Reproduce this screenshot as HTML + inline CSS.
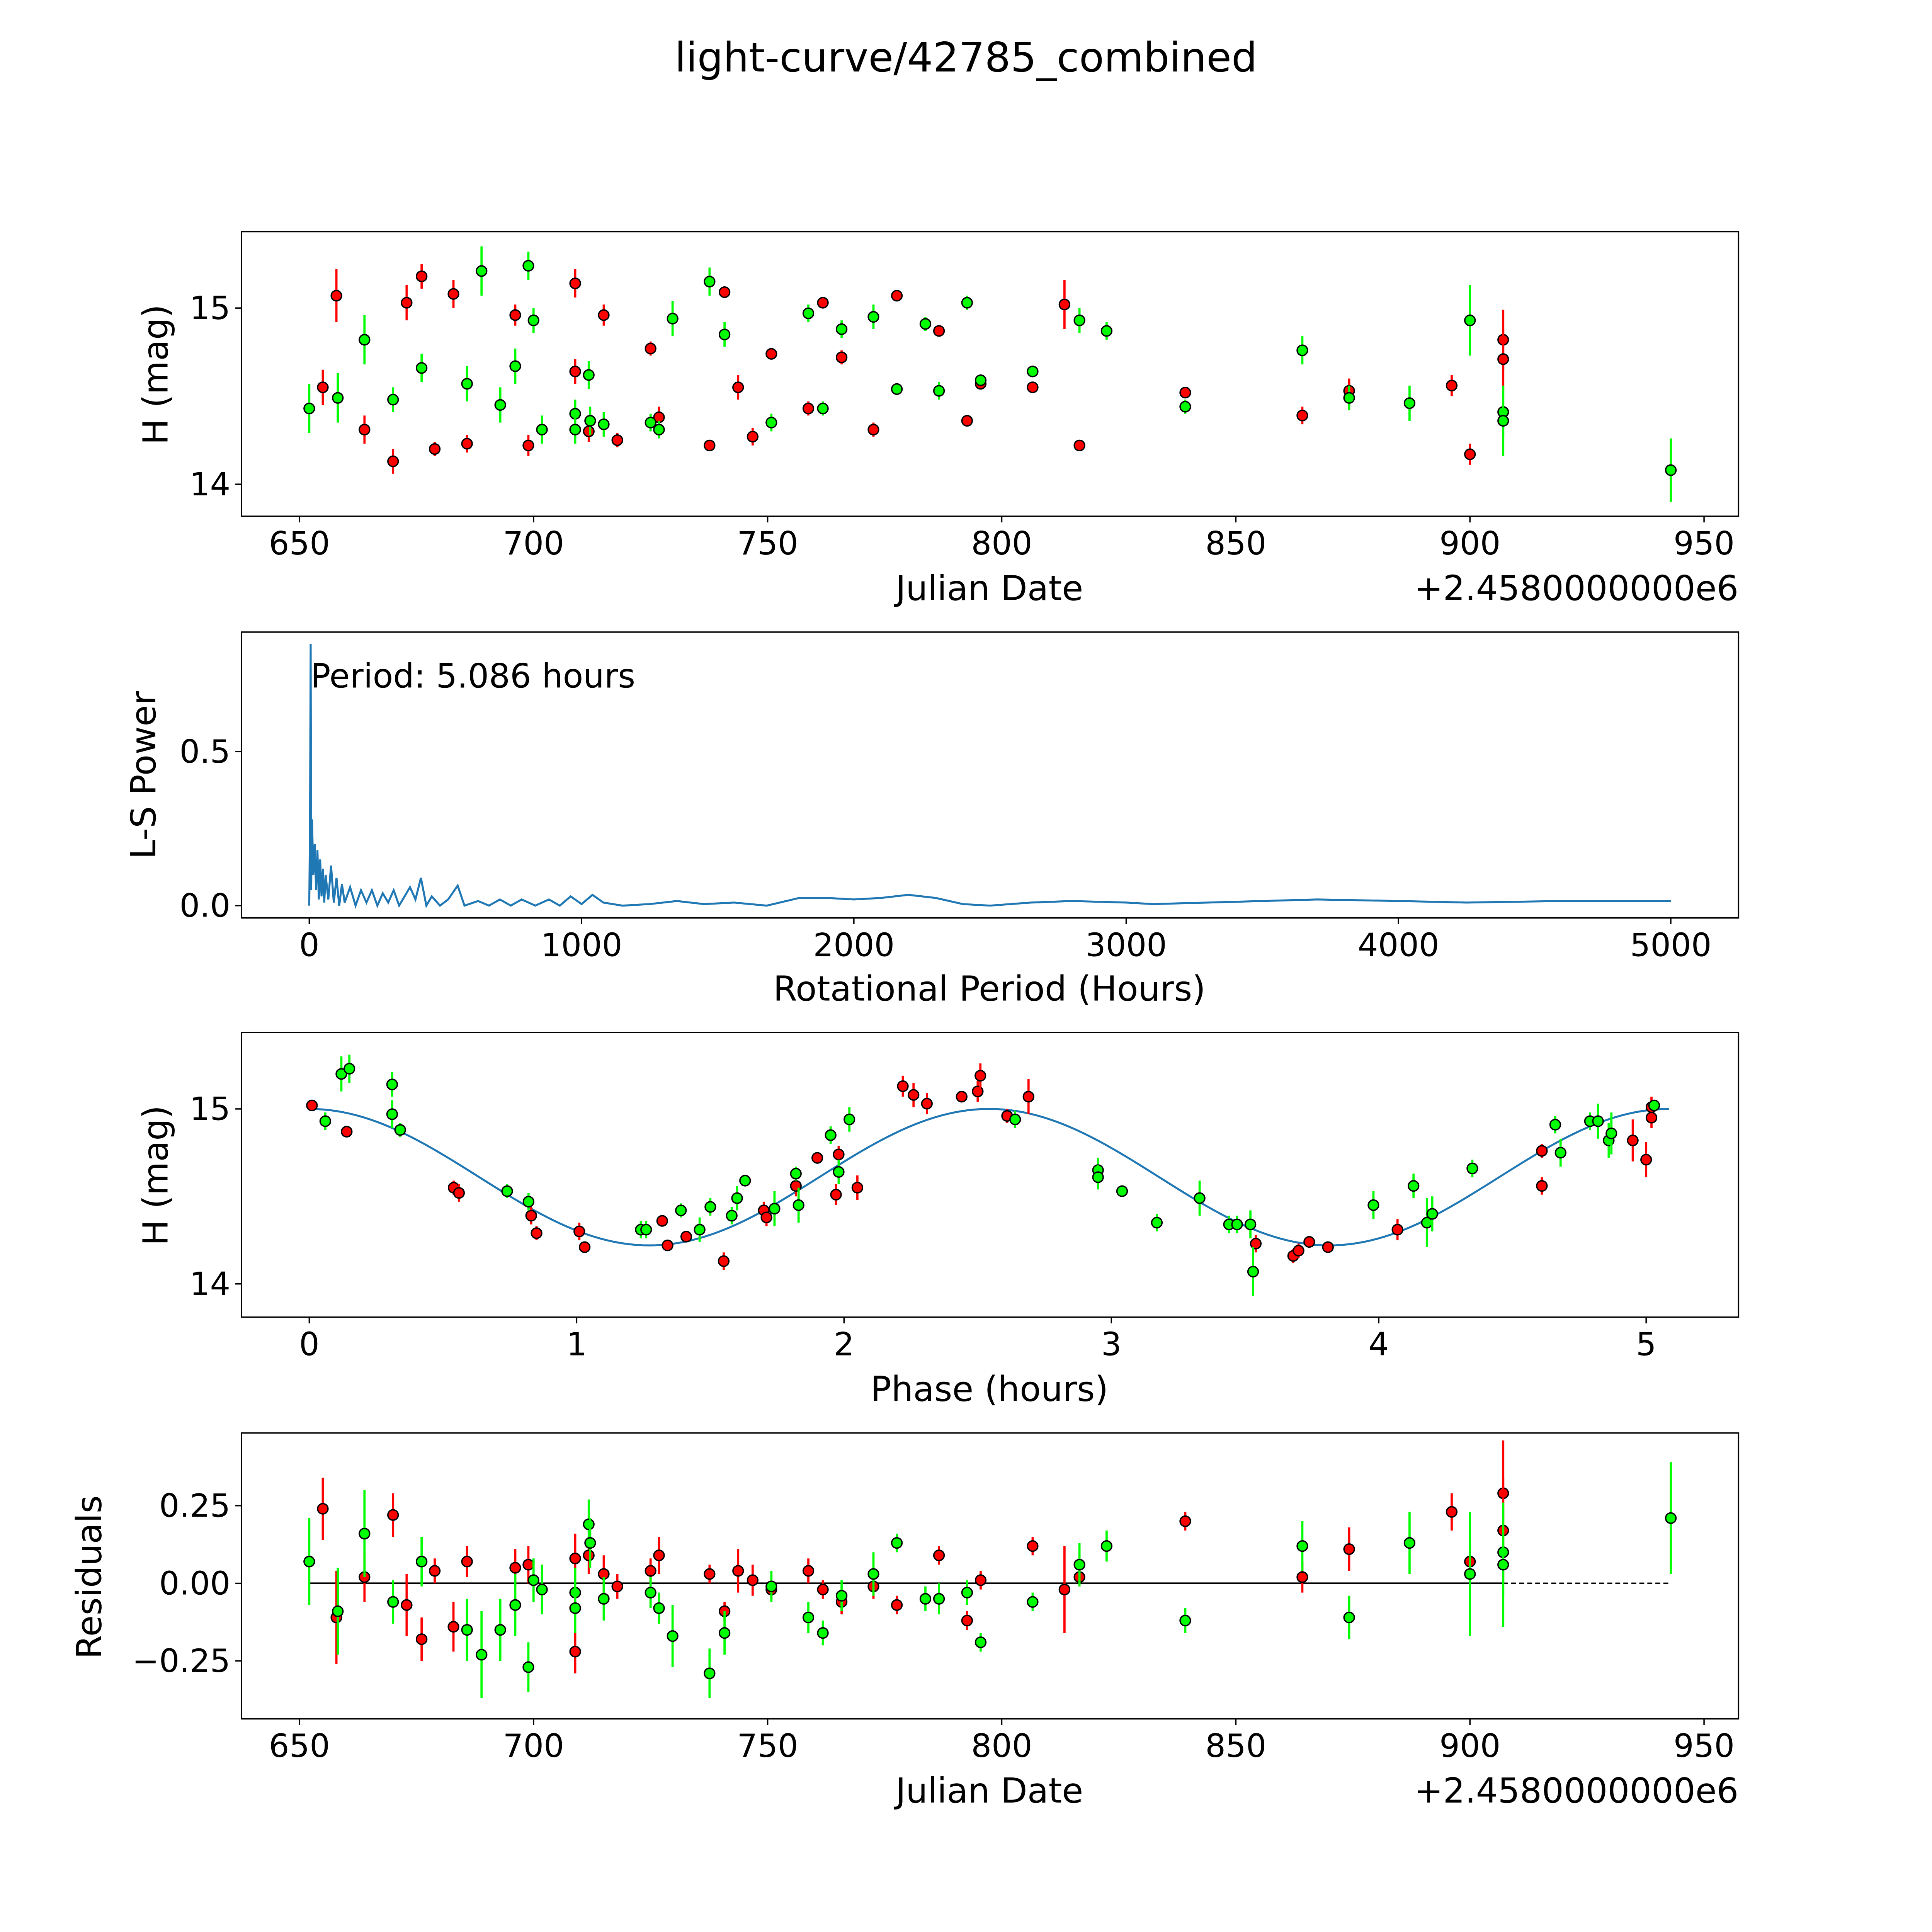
<!DOCTYPE html>
<html><head><meta charset="utf-8"><style>
html,body{margin:0;padding:0;background:#fff;width:100%;height:100%;overflow:hidden}
svg{display:block;width:100vw;height:100vh}
text{font-family:"DejaVu Sans","Liberation Sans",sans-serif;fill:#000}
</style></head><body>
<svg id="fig" xmlns="http://www.w3.org/2000/svg" viewBox="0 0 1568 1568" preserveAspectRatio="none">
<rect width="1568" height="1568" fill="#fff"/>
<text x="784" y="58" font-size="33" text-anchor="middle">light-curve/42785_combined</text>
</svg>
<script>
// ---- Light curve data (Julian date - 2458000, H mag, error) ----
const redJD=[655.0,657.9,663.9,670.0,672.9,676.1,678.9,682.9,685.8,696.1,698.9,708.9,708.9,711.8,715.0,717.9,725.0,726.8,737.6,740.8,743.7,746.8,750.8,758.7,761.8,765.8,772.6,777.6,786.6,792.6,795.5,806.6,813.4,816.6,839.2,864.2,874.2,896.1,900.0,907.1,907.1];
const redMag=[14.55,15.07,14.31,14.13,15.03,15.18,14.20,15.08,14.23,14.96,14.22,15.14,14.64,14.30,14.96,14.25,14.77,14.38,14.22,15.09,14.55,14.27,14.74,14.43,15.03,14.72,14.31,15.07,14.87,14.36,14.57,14.55,15.02,14.22,14.52,14.39,14.53,14.56,14.17,14.82,14.71];
const redErr=[0.10,0.15,0.08,0.07,0.10,0.07,0.04,0.08,0.05,0.06,0.06,0.08,0.07,0.06,0.06,0.04,0.04,0.06,0.03,0.03,0.07,0.05,0.03,0.04,0.03,0.04,0.04,0.03,0.03,0.03,0.03,0.03,0.14,0.03,0.03,0.05,0.07,0.06,0.06,0.17,0.17];
const redRes=[0.24,-0.11,0.02,0.22,-0.07,-0.18,0.04,-0.14,0.07,0.05,0.06,0.08,-0.22,0.09,0.03,-0.01,0.04,0.09,0.03,-0.09,0.04,0.01,-0.02,0.04,-0.02,-0.06,-0.01,-0.07,0.09,-0.12,0.01,0.12,-0.02,0.02,0.20,0.02,0.11,0.23,0.07,0.29,0.17];
const grnJD=[652.1,658.2,663.9,670.0,676.1,685.8,688.9,692.9,696.1,698.9,700.0,701.8,708.9,708.9,711.8,712.1,715.0,725.0,726.8,729.7,737.6,740.8,750.8,758.7,761.8,765.8,772.6,777.6,783.7,786.6,792.6,795.5,806.6,816.6,822.4,839.2,864.2,874.2,887.1,900.0,907.1,907.1,942.9];
const grnMag=[14.43,14.49,14.82,14.48,14.66,14.57,15.21,14.45,14.67,15.24,14.93,14.31,14.40,14.31,14.62,14.36,14.34,14.35,14.31,14.94,15.15,14.85,14.35,14.97,14.43,14.88,14.95,14.54,14.91,14.53,15.03,14.59,14.64,14.93,14.87,14.44,14.76,14.49,14.46,14.93,14.41,14.36,14.08];
const grnErr=[0.14,0.14,0.14,0.07,0.08,0.10,0.14,0.10,0.10,0.08,0.07,0.08,0.08,0.08,0.08,0.08,0.07,0.05,0.05,0.10,0.08,0.07,0.05,0.05,0.04,0.05,0.07,0.03,0.04,0.05,0.04,0.03,0.03,0.07,0.05,0.04,0.08,0.07,0.10,0.20,0.14,0.20,0.18];
const grnRes=[0.07,-0.09,0.16,-0.06,0.07,-0.15,-0.23,-0.15,-0.07,-0.27,0.01,-0.02,-0.03,-0.08,0.19,0.13,-0.05,-0.03,-0.08,-0.17,-0.29,-0.16,-0.01,-0.11,-0.16,-0.04,0.03,0.13,-0.05,-0.05,-0.03,-0.19,-0.06,0.06,0.12,-0.12,0.12,-0.11,0.13,0.03,0.10,0.06,0.21];
// ---- Phase-folded data (phase hours, mag, err) ----
const redPh=[0.01,0.14,0.54,0.56,0.83,0.85,1.01,1.03,1.32,1.34,1.41,1.55,1.70,1.71,1.82,1.90,1.97,1.98,2.05,2.22,2.26,2.31,2.44,2.50,2.51,2.61,2.69,3.54,3.68,3.70,3.74,3.81,4.07,4.61,4.61,4.95,5.00,5.02,5.02];
const redPhMag=[15.02,14.87,14.55,14.52,14.39,14.29,14.30,14.21,14.36,14.22,14.27,14.13,14.42,14.38,14.56,14.72,14.51,14.74,14.55,15.13,15.08,15.03,15.07,15.10,15.19,14.96,15.07,14.23,14.16,14.19,14.24,14.21,14.31,14.56,14.76,14.82,14.71,14.95,15.01];
const redPhErr=[0.03,0.03,0.04,0.05,0.05,0.04,0.05,0.03,0.03,0.03,0.03,0.05,0.05,0.05,0.06,0.03,0.06,0.05,0.07,0.06,0.07,0.06,0.03,0.06,0.07,0.04,0.10,0.05,0.04,0.04,0.03,0.03,0.06,0.05,0.04,0.12,0.10,0.06,0.06];
const grnPh=[0.06,0.12,0.15,0.31,0.31,0.34,0.74,0.82,1.24,1.26,1.39,1.46,1.50,1.58,1.60,1.63,1.74,1.82,1.83,1.95,1.98,2.02,2.64,2.95,2.95,3.04,3.17,3.33,3.44,3.47,3.52,3.53,3.98,4.13,4.18,4.20,4.35,4.66,4.68,4.79,4.82,4.86,4.87,5.03];
const grnPhMag=[14.93,15.20,15.23,15.14,14.97,14.88,14.53,14.47,14.31,14.31,14.42,14.31,14.44,14.39,14.49,14.59,14.43,14.63,14.45,14.85,14.64,14.94,14.94,14.65,14.61,14.53,14.35,14.49,14.34,14.34,14.34,14.07,14.45,14.56,14.35,14.40,14.66,14.91,14.75,14.93,14.93,14.82,14.86,15.02];
const grnPhErr=[0.05,0.10,0.08,0.07,0.08,0.04,0.04,0.05,0.05,0.05,0.04,0.07,0.05,0.05,0.07,0.03,0.10,0.04,0.10,0.05,0.07,0.07,0.05,0.07,0.07,0.03,0.05,0.10,0.05,0.05,0.08,0.14,0.08,0.07,0.14,0.10,0.05,0.05,0.08,0.05,0.10,0.10,0.12,0.03];
// ---- Periodogram (period hours, L-S power) ----
const lsPeriod=[0,3,5.086,7,10,15,20,25,30,35,40,45,50,55,60,70,80,90,100,110,120,130,150,170,190,210,230,250,270,290,310,330,350,370,390,410,430,450,480,510,545,570,620,660,700,740,780,830,880,920,960,1000,1040,1080,1150,1250,1350,1450,1560,1680,1800,1900,2000,2100,2200,2300,2400,2500,2650,2800,3000,3100,3300,3700,4000,4250,4600,5000];
const lsPower=[0,0.30,0.85,0.05,0.28,0.10,0.20,0.05,0.18,0.02,0.15,0.03,0.12,0.01,0.10,0.02,0.13,0.01,0.09,0.00,0.07,0.01,0.06,0.00,0.05,0.01,0.05,0.00,0.04,0.01,0.05,0.00,0.03,0.06,0.02,0.09,0.00,0.03,0.00,0.02,0.065,0.00,0.015,0.00,0.02,0.00,0.02,0.00,0.02,0.00,0.03,0.005,0.035,0.01,0.00,0.005,0.015,0.005,0.01,0.00,0.025,0.025,0.02,0.025,0.035,0.025,0.005,0.00,0.01,0.015,0.01,0.005,0.01,0.02,0.015,0.01,0.015,0.015];
const fitPeriod=5.086, fitMean=14.61, fitAmp=0.39;
const jdTicks=[650,700,750,800,850,900,950];
const lsXTicks=[0,1000,2000,3000,4000,5000];
const lsYTicks=[0,0.5];
const magTicks=[14,15];
const phTicks=[0,1,2,3,4,5];
const resTicks=[-0.25,0,0.25];
const resTickLabels=["\u22120.25","0.00","0.25"];

const NS="http://www.w3.org/2000/svg";
const svg=document.getElementById('fig');
function mk(tag,attrs,parent){const e=document.createElementNS(NS,tag);for(const k in attrs)e.setAttribute(k,attrs[k]);(parent||svg).appendChild(e);return e;}
function lin(d0,p0,d1,p1){return v=>p0+(v-d0)*(p1-p0)/(d1-d0);}
const X0=196,X1=1411;
function axesBox(name,y0,y1){
  const g=mk('g',{});
  
  
  mk('rect',{x:X0,y:y0,width:X1-X0,height:y1-y0,fill:'none',stroke:'#000','stroke-width':1.1},g);
  return g;
}
function xTicks(g,ticks,sx,yb,labels){
  ticks.forEach((t,i)=>{const x=sx(t);
    mk('line',{x1:x,x2:x,y1:yb,y2:yb+5,stroke:'#000','stroke-width':1.1},g);
    const tx=mk('text',{x:x,y:yb+31,'font-size':26,'text-anchor':'middle'},g);
    
    
    tx.textContent=labels?labels[i]:String(t);});
}
function yTicks(g,ticks,sy,labels){
  ticks.forEach((t,i)=>{const y=sy(t);
    mk('line',{x1:X0-5,x2:X0,y1:y,y2:y,stroke:'#000','stroke-width':1.1},g);
    const tx=mk('text',{x:X0-9,y:y+9,'font-size':26,'text-anchor':'end'},g);
    
    
    tx.textContent=labels?labels[i]:String(t);});
}
function label(g,txt,x,y,rot,name){
  const t=mk('text',{x:x,y:y,'font-size':28,'text-anchor':'middle',transform:rot?`rotate(-90 ${x} ${y})`:''},g);
  
  
  t.textContent=txt;
}
function points(g,xs,ys,es,sx,sy,color,name){
  xs.forEach((v,i)=>{const x=sx(v),y=sy(ys[i]);
    const l=mk('line',{x1:x,x2:x,y1:sy(ys[i]+es[i]),y2:sy(ys[i]-es[i]),stroke:color,'stroke-width':1.8},g);
    
    
    const c=mk('circle',{cx:x,cy:y,r:4.2,fill:color,stroke:'#000','stroke-width':1.1},g);
    
    
  });
}
const RED='#ff0000',GRN='#00ff00';

// Panel 1: light curve
{const g=axesBox('light-curve-panel',188,419);
 const sx=lin(650,243,950,1383), sy=lin(15,250,14,393);
 xTicks(g,jdTicks,sx,419); yTicks(g,magTicks,sy);
 points(g,redJD,redMag,redErr,sx,sy,RED,'red-band');
 points(g,grnJD,grnMag,grnErr,sx,sy,GRN,'green-band');
 label(g,'Julian Date',803,487,false,'x-axis-title');
 const o=mk('text',{x:1411,y:487,'font-size':28,'text-anchor':'end'},g);
 o.textContent='+2.4580000000e6';
 label(g,'H (mag)',136,304,true,'y-axis-title');}

// Panel 2: periodogram
{const g=axesBox('periodogram-panel',513,745);
 const sx=lin(0,251,5000,1356), sy=lin(0,735,0.5,610);
 xTicks(g,lsXTicks,sx,745); yTicks(g,lsYTicks,sy,["0.0","0.5"]);
 const p=mk('polyline',{points:lsPeriod.map((v,i)=>sx(v)+','+sy(lsPower[i])).join(' '),fill:'none',stroke:'#1f77b4','stroke-width':1.6},g);
 
 const t=mk('text',{x:252,y:558,'font-size':27},g);
 t.textContent='Period: 5.086 hours';
 label(g,'Rotational Period (Hours)',803,812,false,'x-axis-title');
 label(g,'L-S Power',126,629,true,'y-axis-title');}

// Panel 3: phase folded
{const g=axesBox('phase-panel',838,1069);
 const sx=lin(0,251,5,1336), sy=lin(15,900,14,1042);
 xTicks(g,phTicks,sx,1069); yTicks(g,magTicks,sy);
 const pts=[];for(let i=0;i<=200;i++){const ph=fitPeriod*i/200;pts.push(sx(ph)+','+sy(fitMean+fitAmp*Math.cos(4*Math.PI*ph/fitPeriod)));}
 const p=mk('polyline',{points:pts.join(' '),fill:'none',stroke:'#1f77b4','stroke-width':1.6},g);
 
 points(g,redPh,redPhMag,redPhErr,sx,sy,RED,'red-band-phase');
 points(g,grnPh,grnPhMag,grnPhErr,sx,sy,GRN,'green-band-phase');
 label(g,'Phase (hours)',803,1137,false,'x-axis-title');
 label(g,'H (mag)',136,954,true,'y-axis-title');}

// Panel 4: residuals
{const g=axesBox('residuals-panel',1163,1395);
 const sx=lin(650,243,950,1383), sy=lin(0,1285,0.25,1222);
 xTicks(g,jdTicks,sx,1395); yTicks(g,resTicks,sy,resTickLabels);
 const a=mk('line',{x1:sx(652.1),x2:sx(907.1),y1:sy(0),y2:sy(0),stroke:'#000','stroke-width':1.4},g);
 
 const b=mk('line',{x1:sx(907.1),x2:sx(942.9),y1:sy(0),y2:sy(0),stroke:'#000','stroke-width':1.2,'stroke-dasharray':'4,2.5'},g);
 
 points(g,redJD,redRes,redErr,sx,sy,RED,'red-residual');
 points(g,grnJD,grnRes,grnErr,sx,sy,GRN,'green-residual');
 label(g,'Julian Date',803,1463,false,'x-axis-title');
 const o=mk('text',{x:1411,y:1463,'font-size':28,'text-anchor':'end'},g);
 o.textContent='+2.4580000000e6';
 label(g,'Residuals',82,1280,true,'y-axis-title');}
</script>
</body></html>
